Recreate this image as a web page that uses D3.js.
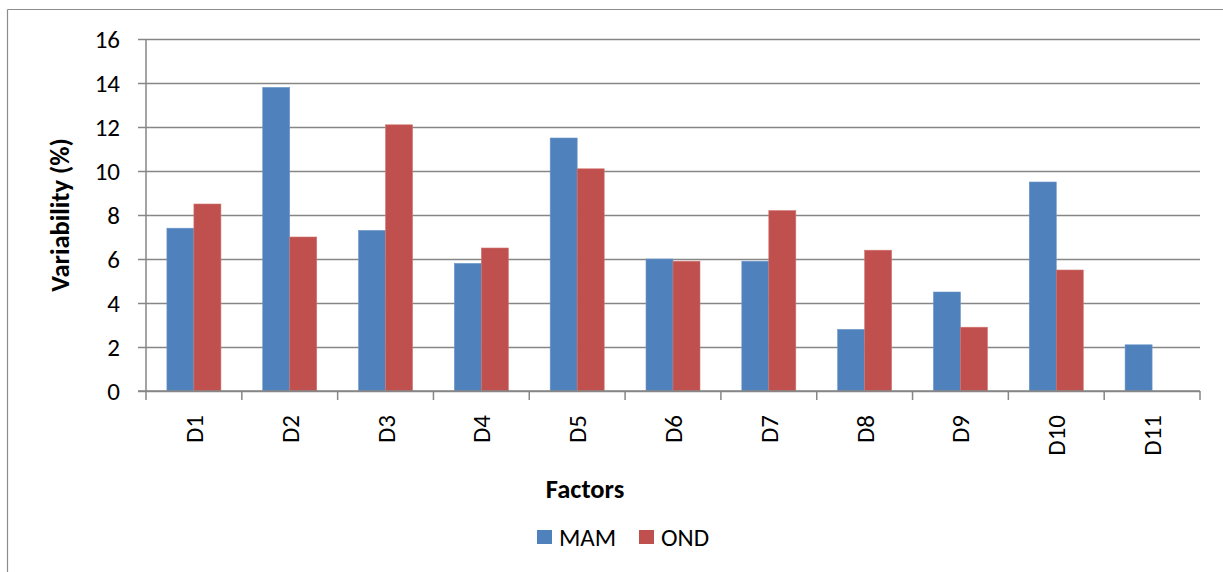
<!DOCTYPE html>
<html>
<head>
<meta charset="utf-8">
<script src="https://cdn.jsdelivr.net/npm/d3@7"></script>
<style>
  html, body { margin: 0; padding: 0; background: #fff; }
  svg { display: block; font-family: Carlito, Lato, "Open Sans", sans-serif; }
</style>
</head>
<body>
<svg id="chart" width="1223" height="572"></svg>
<script>
// Variability (%) per factor for the two rainy seasons
const categories = ["D1", "D2", "D3", "D4", "D5", "D6", "D7", "D8", "D9", "D10", "D11"];
const seriesNames = ["MAM", "OND"];
const mamValues = [7.4, 13.8, 7.3, 5.8, 11.5, 6.0, 5.9, 2.8, 4.5, 9.5, 2.1];
const ondValues = [8.5, 7.0, 12.1, 6.5, 10.1, 5.9, 8.2, 6.4, 2.9, 5.5, null];
const yTicks = [0, 2, 4, 6, 8, 10, 12, 14, 16];
const colors = ["#4F81BD", "#C0504D"];

const svg = d3.select("#chart");
const plot = { left: 146, right: 1200, top: 39, bottom: 391 };
const gridColor = "#868686";
const labelFont = 25;
const titleFont = 26.5;

// outer frame (top and left edges)
svg.append("line").attr("x1", 7.5).attr("x2", 1223).attr("y1", 9.5).attr("y2", 9.5)
  .attr("stroke", "#8c8c8c").attr("stroke-width", 1.2);
svg.append("line").attr("x1", 7.5).attr("x2", 7.5).attr("y1", 9.5).attr("y2", 572)
  .attr("stroke", "#8c8c8c").attr("stroke-width", 1.2);

const x = d3.scaleBand().domain(categories).range([plot.left, plot.right]).paddingInner(0).paddingOuter(0);
const y = d3.scaleLinear().domain([0, 16]).range([plot.bottom, plot.top]);
const barW = 27;
const xs = d3.scaleBand().domain(seriesNames).range([0, barW * 2]);

// horizontal gridlines with left tick stubs
const yAxis = d3.axisLeft(y).tickValues(yTicks).tickSize(-(plot.right - plot.left)).tickPadding(26);
const gy = svg.append("g").attr("transform", `translate(${plot.left},0)`).call(yAxis);
gy.select(".domain").remove();
gy.selectAll(".tick line").attr("stroke", gridColor).attr("stroke-width", 1.5).attr("x1", -8);
gy.selectAll(".tick text").attr("font-size", labelFont).attr("fill", "#000")
  .attr("font-family", "Carlito, Lato, sans-serif").attr("dy", "0.34em");

// vertical axis line
svg.append("line").attr("x1", plot.left).attr("x2", plot.left).attr("y1", plot.top).attr("y2", plot.bottom)
  .attr("stroke", gridColor).attr("stroke-width", 1.5);

// bars
const rows = categories.map((c, i) => ({ cat: c, vals: [mamValues[i], ondValues[i]] }));
const groups = svg.append("g").selectAll("g").data(rows).join("g")
  .attr("transform", d => `translate(${x(d.cat) + (x.bandwidth() - barW * 2) / 2},0)`);
groups.selectAll("rect")
  .data(d => d.vals.map((v, j) => ({ name: seriesNames[j], v, j })).filter(e => e.v != null))
  .join("rect")
  .attr("x", e => xs(e.name))
  .attr("width", xs.bandwidth())
  .attr("y", e => y(e.v))
  .attr("height", e => y(0) - y(e.v))
  .attr("fill", e => colors[e.j])
  .attr("stroke", e => e.j === 0 ? "#6e97c9" : "#cf7573")
  .attr("stroke-width", 0.6);

// category axis with tick marks between groups
const xAxis = d3.axisBottom(x).tickSize(0).tickPadding(0);
const gx = svg.append("g").attr("transform", `translate(0,${plot.bottom})`).call(xAxis);
gx.select(".domain").remove();
gx.selectAll(".tick text")
  .attr("font-size", labelFont).attr("fill", "#000").attr("font-family", "Carlito, Lato, sans-serif")
  .attr("text-anchor", "end")
  .attr("dy", null)
  .attr("transform", "translate(9,24) rotate(-90)");
svg.append("line").attr("x1", plot.left - 8).attr("x2", plot.right).attr("y1", plot.bottom).attr("y2", plot.bottom)
  .attr("stroke", gridColor).attr("stroke-width", 1.5);
const boundaries = categories.map(c => x(c)).concat([plot.right]);
svg.append("g").selectAll("line").data(boundaries).join("line")
  .attr("x1", d => d).attr("x2", d => d)
  .attr("y1", plot.bottom).attr("y2", plot.bottom + 9)
  .attr("stroke", gridColor).attr("stroke-width", 1.5);

// axis titles
svg.append("text").attr("x", 585).attr("y", 498).attr("text-anchor", "middle")
  .attr("font-size", titleFont).attr("font-weight", "bold").text("Factors");
svg.append("text").attr("transform", "translate(69,215) rotate(-90)").attr("text-anchor", "middle")
  .attr("font-size", titleFont).attr("font-weight", "bold").text("Variability (%)");

// legend
const legend = svg.append("g");
const legendItems = [{ name: "MAM", x: 537 }, { name: "OND", x: 639 }];
legendItems.forEach((it, i) => {
  legend.append("rect").attr("x", it.x).attr("y", 530).attr("width", 15).attr("height", 14).attr("fill", colors[i]);
  legend.append("text").attr("x", it.x + 22).attr("y", 546).attr("font-size", labelFont).attr("fill", "#000").text(it.name);
});
</script>
</body>
</html>
